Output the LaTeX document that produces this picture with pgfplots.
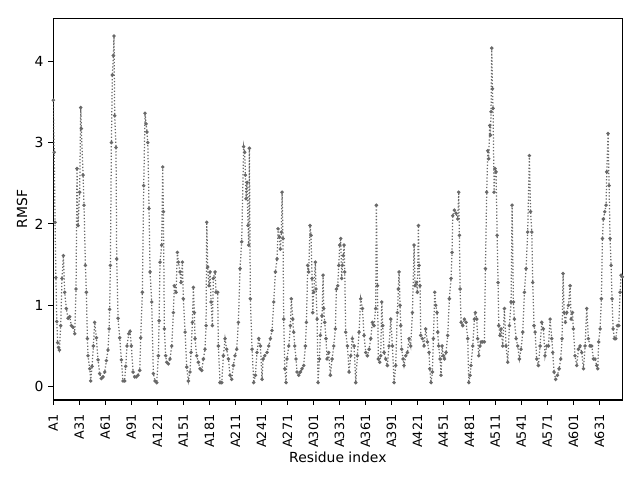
\documentclass[border=0pt]{standalone}
\usepackage{fontspec}
\setmainfont{DejaVu Sans}
\usepackage{pgfplots}
\usepackage{pgfplotstable}
\pgfplotsset{compat=1.18}
\definecolor{dimgray}{RGB}{105,105,105}
\pgfplotstableread{
x y
1 3.52
2 2.88
3 2.02
4 1.34
5 0.80
6 0.54
7 0.48
8 0.45
9.5 0.75
11.0 1.33
12.6 1.61
14.1 1.16
16.0 0.96
18.0 0.84
19.9 0.86
21.8 0.75
23.7 0.73
25.7 0.65
27.2 1.20
28.3 2.68
29.5 1.98
31.4 2.39
32.6 3.43
33.3 3.17
35.3 2.60
36.4 2.23
38.0 1.49
39.1 1.16
40.3 0.59
41.0 0.38
43.0 0.22
44.1 0.07
45.7 0.25
47.2 0.50
48.7 0.79
50.7 0.60
52.6 0.33
54.5 0.16
56.4 0.10
58.3 0.12
60.3 0.18
62.2 0.32
64.1 0.45
65.3 0.71
66.0 0.95
66.8 1.49
68.0 3.00
69.1 3.83
70.3 4.07
71.0 4.31
71.8 3.33
73.3 2.94
74.1 1.57
75.7 0.84
77.6 0.60
79.5 0.33
81.4 0.07
83.3 0.07
84.5 0.25
86.0 0.50
88.0 0.65
89.5 0.68
91.0 0.50
93.0 0.18
94.9 0.12
96.8 0.12
98.7 0.14
100.7 0.20
101.8 0.60
103.7 1.16
105.3 2.47
106.8 3.36
108.0 3.23
109.0 3.13
110.0 3.00
111.4 2.19
112.6 1.41
114.5 1.04
116.4 0.16
118.3 0.07
120.3 0.05
122.2 0.38
123.0 0.81
124.1 1.53
126.0 1.74
127.2 2.70
128.0 2.15
129.1 0.71
130.6 0.38
131.8 0.30
133.7 0.28
135.6 0.34
137.6 0.50
139.5 0.91
140.6 1.24
142.6 1.16
144.1 1.65
145.3 1.53
147.2 1.41
148.3 1.28
149.9 1.53
151.0 1.08
153.0 0.67
154.9 0.24
156.8 0.07
158.7 0.18
159.9 0.42
161.4 0.79
162.6 1.22
163.7 0.91
164.5 0.59
166.4 0.38
168.3 0.30
170.3 0.22
172.2 0.20
174.1 0.34
176.0 0.46
177.2 0.75
178.0 2.02
179.1 1.47
180.6 1.24
181.8 1.41
183.0 1.04
184.5 0.75
185.6 1.33
187.6 1.41
188.7 1.16
190.6 1.16
191.4 0.50
193.3 0.05
195.3 0.05
197.2 0.38
199.1 0.59
201.0 0.46
203.0 0.34
204.9 0.14
206.8 0.09
208.7 0.26
210.6 0.38
212.6 0.46
214.5 0.79
216.4 1.45
218.3 1.78
220.6 2.95
221.8 2.88
222.6 2.60
223.3 2.31
224.5 2.51
225.6 1.98
226.4 1.74
227.2 2.93
228.3 1.08
230.3 0.46
232.2 0.05
234.1 0.14
236.0 0.42
238.0 0.59
239.9 0.50
241.8 0.09
243.0 0.34
244.9 0.38
247.6 0.42
249.5 0.50
251.4 0.59
253.3 0.69
255.3 1.04
257.2 1.41
259.1 1.57
260.3 1.94
261.8 1.84
263.0 1.69
264.1 1.90
264.9 2.39
266.0 1.82
266.8 0.83
268.0 0.22
269.5 0.05
270.6 0.34
272.6 0.50
274.5 0.75
275.6 1.08
277.2 0.83
278.3 0.67
279.5 0.50
281.0 0.34
282.2 0.18
284.1 0.14
286.0 0.18
287.9 0.22
289.9 0.26
291.8 0.50
293.0 0.79
294.5 1.49
295.6 1.41
297.2 1.98
298.3 1.86
299.5 1.33
300.3 0.91
301.4 1.16
303.3 1.53
304.1 1.20
305.3 0.83
306.4 0.05
308.0 0.34
309.1 0.63
311.0 0.87
312.2 1.37
313.0 0.96
314.1 0.79
315.6 0.59
316.8 0.34
318.7 0.42
320.6 0.14
322.6 0.34
324.5 0.50
326.4 0.71
327.6 1.20
329.1 1.24
330.3 1.49
331.4 1.74
332.6 1.82
333.7 1.33
334.5 1.49
335.6 1.61
336.4 1.74
337.2 1.41
338.3 0.67
340.3 0.50
342.2 0.18
344.1 0.38
346.0 0.59
348.0 0.50
349.9 0.05
351.8 0.38
353.7 0.67
355.6 1.08
357.6 0.96
359.5 0.63
361.4 0.42
363.3 0.38
365.3 0.46
367.2 0.59
369.1 0.79
371.0 0.75
372.9 0.96
373.7 2.23
374.9 1.24
376.0 0.34
377.6 0.30
378.7 0.38
379.9 1.04
381.0 0.75
382.6 0.42
384.5 0.34
386.4 0.26
388.3 0.50
390.3 0.83
392.2 0.50
394.1 0.05
396.0 0.26
397.9 0.91
399.1 1.20
399.9 1.41
401.0 1.00
401.8 0.75
402.9 0.46
404.5 0.34
405.6 0.26
407.6 0.38
409.5 0.42
411.4 0.59
413.3 0.50
415.3 0.91
417.2 1.74
418.3 1.24
419.9 1.28
421.0 1.16
422.2 1.98
422.9 1.49
424.1 1.24
424.9 0.63
426.8 0.59
428.7 0.50
430.6 0.71
432.6 0.55
434.5 0.42
435.3 0.22
436.8 0.05
438.3 0.18
439.5 0.59
441.0 1.16
442.2 1.00
443.7 0.91
444.5 0.67
445.6 0.50
447.2 0.34
448.3 0.14
449.5 0.50
451.0 0.38
452.2 0.34
454.1 0.42
456.0 0.63
457.9 1.08
459.9 1.33
461.0 1.65
461.8 2.10
463.7 2.17
465.6 2.13
467.6 2.06
468.7 2.39
469.5 1.86
470.3 1.20
471.4 0.79
473.3 0.75
475.3 0.83
477.2 0.79
479.1 0.59
480.3 0.05
481.8 0.14
482.9 0.26
484.9 0.50
486.8 0.83
487.9 0.91
489.5 0.83
490.6 0.59
491.8 0.38
493.3 0.50
494.5 0.55
496.4 0.55
498.3 0.55
499.5 1.45
501.0 2.39
502.2 2.90
503.3 2.80
504.5 3.21
505.3 3.09
506.0 3.38
506.8 4.16
507.6 3.66
508.3 3.42
509.5 2.39
510.6 2.68
511.8 2.64
513.0 1.86
514.1 1.28
514.9 0.75
516.4 0.63
517.6 0.71
519.5 0.50
521.4 0.96
523.3 0.50
525.3 0.30
527.2 0.75
529.1 1.04
530.3 2.23
531.8 1.04
532.9 0.83
534.9 0.59
536.8 0.50
538.7 0.34
540.6 0.46
542.6 0.67
544.5 1.16
546.4 1.45
548.3 1.90
550.2 2.84
551.6 2.15
553.0 1.90
554.1 1.28
555.6 0.75
556.8 0.67
558.7 0.34
560.6 0.26
562.6 0.50
564.5 0.79
566.4 0.71
568.3 0.38
570.3 0.50
572.2 0.50
574.1 0.83
576.0 0.59
577.2 0.42
578.7 0.18
580.6 0.09
582.6 0.14
584.5 0.22
586.4 0.34
587.9 0.59
589.1 1.39
590.3 0.91
591.8 0.79
593.3 0.91
595.3 1.00
597.2 1.24
598.3 0.83
599.9 0.91
601.0 0.71
602.9 0.38
604.9 0.26
606.8 0.46
608.7 0.50
610.6 0.42
612.6 0.22
614.5 0.50
616.4 0.96
618.3 0.59
620.3 0.50
622.2 0.50
624.1 0.34
626.0 0.34
627.9 0.26
629.1 0.22
630.2 0.55
631.8 0.71
633.3 1.08
634.5 1.82
635.6 2.06
637.2 2.15
638.7 2.23
639.5 2.64
641.0 3.11
642.2 2.47
643.3 1.82
644.5 1.49
645.6 1.08
646.8 0.71
648.3 0.59
649.9 0.59
651.8 0.75
653.3 0.75
654.9 1.16
656.0 1.37
657.5 1.35
}\rmsf
\begin{document}
\begin{tikzpicture}
\useasboundingbox (-38.4pt,-57.6pt) rectangle (422.4pt,288pt);
\begin{axis}[
  at={(0,0)}, anchor=south west,
  scale only axis,
  width=409.7pt, height=275pt,
  xmin=1, xmax=657.5,
  ymin=-0.164, ymax=4.53,
  xtick={1,31,61,91,121,151,181,211,241,271,301,331,361,391,421,451,481,511,541,571,601,631},
  xticklabels={A1,A31,A61,A91,A121,A151,A181,A211,A241,A271,A301,A331,A361,A391,A421,A451,A481,A511,A541,A571,A601,A631},
  ytick={0,1,2,3,4},
  tick align=outside,
  xtick pos=bottom, ytick pos=left,
  major tick length=3.5pt,
  every tick/.style={black, line width=0.8pt},
  axis line style={line width=0.8pt},
  /pgf/number format/assume math mode=true,
  tick label style={font=\fontsize{10}{12}\selectfont},
  xticklabel style={rotate=90, anchor=east, font=\fontsize{9.2}{11}\selectfont},
  xticklabel shift=3.5pt,
  xlabel={Residue index},
  ylabel={RMSF},
  xlabel style={at={(axis description cs:0.5,0)}, anchor=center, yshift=-41pt, font=\fontsize{10}{12}\selectfont},
  ylabel style={at={(axis description cs:-0.0549,0.5)}, anchor=center, font=\fontsize{10}{12}\selectfont},
]
\addplot[color=dimgray, line width=0.9pt, dash pattern=on 0.9pt off 1.4pt,
  mark=*, mark size=0.75pt, mark options={solid, fill=dimgray, draw=none}]
  table[x=x, y=y] {\rmsf};
\end{axis}
\end{tikzpicture}
\end{document}
